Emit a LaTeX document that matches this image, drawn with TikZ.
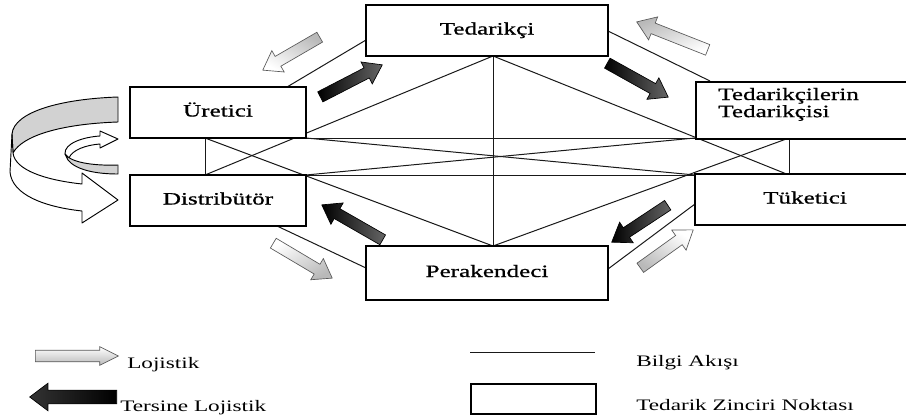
\documentclass[tikz,border=0pt]{standalone}
\usepackage{fontspec}
\setmainfont{Liberation Serif}[FakeStretch=1.45]
\newfontfamily\boxfont{Liberation Serif}[FakeStretch=1.45,FakeBold=0.8]
\usetikzlibrary{shapes.arrows,calc}
\newcommand\blockarr[5]{%
  \path let \p1=(#3), \p2=(#4), \n1={atan2(\y2-\y1,\x2-\x1)}, \n2={veclen(\x2-\x1,\y2-\y1)}, \n3={-\n1} in
  node[#2, rotate=\n1, minimum height=\n2, anchor=tail, #5] (#1) at (#3) {};}
\begin{document}
\begin{tikzpicture}[x=0.75pt,y=-0.75pt,
  box/.style={draw=black, line width=1.2pt, fill=white, inner sep=0pt,
    font=\boxfont\fontsize{13pt}{15pt}\selectfont, text height=9pt, text depth=3pt},
  info/.style={draw=black!90, line width=0.75pt},
  arrbase/.style={single arrow, single arrow head extend=5pt, inner ysep=4pt, inner xsep=0pt,
    single arrow tip angle=70, line width=0.5pt},
  larrow/.style={arrbase, draw=gray!70!black, top color=white, bottom color=gray!55, shading angle=\n3},
  darrow/.style={arrbase, draw=black, left color=black, right color=black!60},
  legtext/.style={font=\fontsize{12pt}{14pt}\selectfont, inner sep=0pt, anchor=base west},
  rib/.style={draw=black, line width=0.7pt, line join=round}
]
\useasboundingbox (0,0) rectangle (906,414);
\clip (0,0) rectangle (906,414);

% key points of the information network
\coordinate (T) at (493,56);
\coordinate (P) at (493,246);
\coordinate (L1) at (205,138);
\coordinate (L2) at (205,175);
\coordinate (R1) at (789,138);
\coordinate (R2) at (789,175);
\coordinate (U) at (306,138);
\coordinate (D) at (306,175);
\coordinate (TT) at (695,138);
\coordinate (TK) at (695,175);
\coordinate (E1) at (906,138);
\coordinate (E2) at (906,175);
\coordinate (o1a) at (287,87);  \coordinate (o1b) at (366,40);
\coordinate (o2a) at (608,31);  \coordinate (o2b) at (710,81);
\coordinate (o3a) at (277,226); \coordinate (o3b) at (366,268);
\coordinate (o4a) at (608,269); \coordinate (o4b) at (695,204);

% information flow
\draw[info] (L1) -- (E1);
\draw[info] (L2) -- (E2);
\draw[info] (L1) -- (L2);
\draw[info] (R1) -- (R2);
\draw[info] (L1) -- (P);
\draw[info] (L2) -- (T);
\draw[info] (R1) -- (P);
\draw[info] (R2) -- (T);
\draw[info] (U) -- (TK);
\draw[info] (D) -- (TT);
\draw[info] (T) -- (P);
\draw[info] (o1a) -- (o1b);
\draw[info] (o2a) -- (o2b);
\draw[info] (o3a) -- (o3b);
\draw[info] (o4a) -- (o4b);

% supply chain points
\node[box, minimum width=181.5pt, minimum height=38.25pt] (ted) at (487,30.5) {Tedarikçi};
\node[box, minimum width=132pt, minimum height=38.25pt] (ure) at (218,112.5) {Üretici};
\node[box, minimum width=132pt, minimum height=38.25pt] (dis) at (218,200.5) {Distribütör};
\node[box, minimum width=181.5pt, minimum height=40.5pt] (per) at (487,273) {Perakendeci};
\node[box, minimum width=165pt, minimum height=42.75pt, anchor=north west] (tted) at (695,81) {};
\node[anchor=base west, inner sep=0pt] (ttlab) at (718,100)
  {\boxfont\fontsize{13pt}{12.75pt}\selectfont\begin{tabular}[t]{@{}l@{}}Tedarikçilerin\\Tedarikçisi\end{tabular}};
\node[box, minimum width=165pt, minimum height=38.25pt] (tuk) at (805,199.5) {Tüketici};

% logistics arrows (light) and reverse logistics arrows (dark)
\blockarr{a1}{larrow}{320,37}{263,70}{}
\blockarr{a2}{darrow}{320,97}{382,65}{}
\blockarr{a3}{larrow}{708,50}{637,22}{}
\blockarr{a4}{darrow}{607,63}{668,97}{}
\blockarr{a5}{darrow}{383,240}{322,205}{}
\blockarr{a6}{larrow}{273,243}{332,278}{}
\blockarr{a7}{darrow}{668,205}{612,242}{}
\blockarr{a8}{larrow}{640,268}{693,230}{}

% curved ribbons on the left
\draw[rib, fill=gray!35] (118,97) .. controls (60,99) and (14,112) .. (12,134)
  -- (13,153) .. controls (22,136) and (60,124) .. (118,122) -- cycle;
\draw[rib, fill=white] (12,134) -- (10,172) .. controls (12,195) and (45,207) .. (82,211)
  -- (82,223) -- (118,200) -- (82,173) -- (82,184) .. controls (45,180) and (15,170) .. (13,153) -- cycle;
\draw[rib, fill=white] (65,154) .. controls (64,143) and (84,137) .. (100,136) -- (100,131)
  -- (118,139) -- (100,148) -- (100,144) .. controls (86,145) and (72,150) .. (69,158) -- cycle;
\draw[rib, fill=gray!35] (118,165) .. controls (92,166) and (70,162) .. (65,154)
  -- (68,160) .. controls (76,170) and (96,174) .. (118,174) -- cycle;

% legend
\blockarr{lg1}{larrow}{35,356}{118,356}{inner ysep=4.1pt, single arrow head extend=2.6pt, single arrow tip angle=53}
\node[legtext] (lojtxt) at (127,368) {Lojistik};
\blockarr{lg2}{darrow}{117,397}{30,397}{inner ysep=4.9pt, single arrow head extend=5.2pt, single arrow tip angle=74, left color=black!80, right color=black}
\node[legtext] (terstxt) at (120,411) {Tersine Lojistik};
\coordinate (bl1) at (470,352);
\coordinate (bl2) at (595,352);
\draw[info] (bl1) -- (bl2);
\node[draw, line width=1.2pt, minimum width=93.75pt, minimum height=22.5pt, anchor=north west, inner sep=0pt] (legbox) at (470,383) {};
\node[legtext] (bilgi) at (636,366) {Bilgi Akışı};
\node[legtext] (tzn) at (636,410) {Tedarik Zinciri Noktası};
\end{tikzpicture}
\end{document}
